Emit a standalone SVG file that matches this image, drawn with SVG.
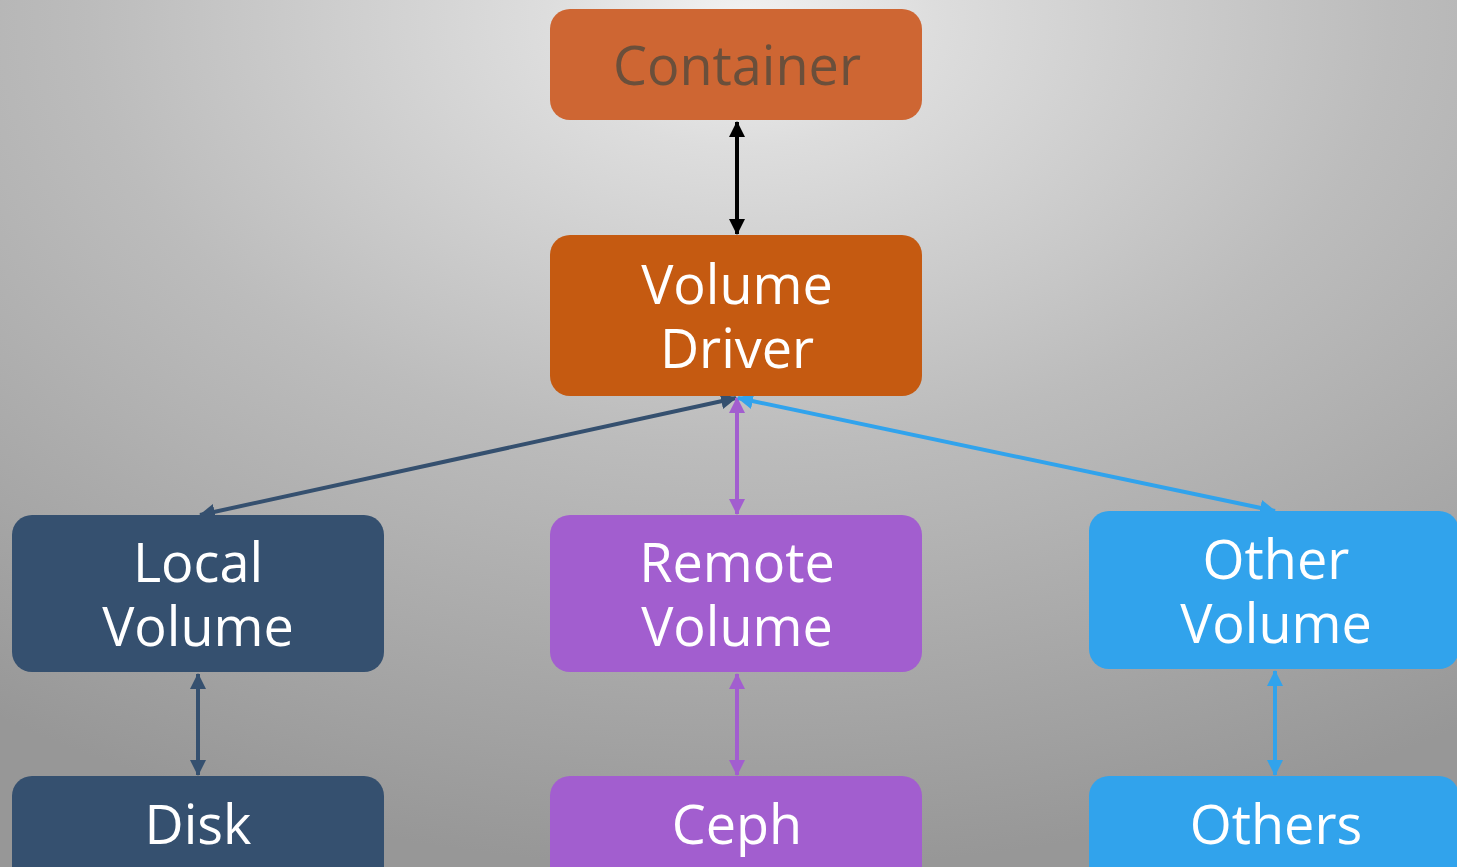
<svg xmlns="http://www.w3.org/2000/svg" width="1457" height="867" viewBox="0 0 1457 867">
<defs>
<radialGradient id="bg" gradientUnits="userSpaceOnUse" cx="740" cy="20" r="1" gradientTransform="translate(740 20) scale(1300 850) translate(-740 -20)" fx="740" fy="20">
<stop offset="0" stop-color="#F2F2F2"/>
<stop offset="0.15" stop-color="#DDDDDD"/>
<stop offset="0.5" stop-color="#BCBCBC"/>
<stop offset="0.8" stop-color="#A6A6A6"/>
<stop offset="1" stop-color="#979797"/>
</radialGradient>
<marker id="aK" viewBox="0 0 16 16" refX="15" refY="8" markerWidth="16" markerHeight="16" orient="auto-start-reverse" markerUnits="userSpaceOnUse"><path d="M0,0 L16,8 L0,16 z" fill="#000"/></marker>
<marker id="aL" viewBox="0 0 16 16" refX="15" refY="8" markerWidth="16" markerHeight="16" orient="auto-start-reverse" markerUnits="userSpaceOnUse"><path d="M0,0 L16,8 L0,16 z" fill="#35506F"/></marker>
<marker id="aR" viewBox="0 0 16 16" refX="15" refY="8" markerWidth="16" markerHeight="16" orient="auto-start-reverse" markerUnits="userSpaceOnUse"><path d="M0,0 L16,8 L0,16 z" fill="#A25ECF"/></marker>
<marker id="aO" viewBox="0 0 16 16" refX="15" refY="8" markerWidth="16" markerHeight="16" orient="auto-start-reverse" markerUnits="userSpaceOnUse"><path d="M0,0 L16,8 L0,16 z" fill="#31A3EC"/></marker>
</defs>
<style>
text{font-family:"Open Sans","Noto Sans","DejaVu Sans",sans-serif;font-size:54px;text-anchor:middle;fill:#FFFFFF}
.t{fill:#6A4F3B}
.c{fill:none;stroke-width:4}
</style>
<rect width="1457" height="867" fill="url(#bg)"/>
<g id="connectors">
<line class="c" x1="737" y1="122" x2="737" y2="234" stroke="#000" marker-start="url(#aK)" marker-end="url(#aK)"/>
<line class="c" x1="736" y1="398" x2="200" y2="515" stroke="#35506F" marker-start="url(#aL)" marker-end="url(#aL)"/>
<line class="c" x1="737" y1="398" x2="737" y2="514" stroke="#A25ECF" marker-start="url(#aR)" marker-end="url(#aR)"/>
<line class="c" x1="738" y1="398" x2="1275" y2="511" stroke="#31A3EC" marker-start="url(#aO)" marker-end="url(#aO)"/>
<line class="c" x1="198" y1="674" x2="198" y2="775" stroke="#35506F" marker-start="url(#aL)" marker-end="url(#aL)"/>
<line class="c" x1="737" y1="674" x2="737" y2="775" stroke="#A25ECF" marker-start="url(#aR)" marker-end="url(#aR)"/>
<line class="c" x1="1275" y1="671" x2="1275" y2="775" stroke="#31A3EC" marker-start="url(#aO)" marker-end="url(#aO)"/>
</g>
<g id="container"><rect x="550" y="9" width="372" height="111" rx="20" fill="#CE6633"/><text class="t" x="737" y="85">Container</text></g>
<g id="volume-driver"><rect x="550" y="235" width="372" height="161" rx="20" fill="#C55A11"/><text x="737" y="304">Volume</text><text x="737" y="368">Driver</text></g>
<g id="local-volume"><rect x="12" y="515" width="372" height="157" rx="20" fill="#35506F"/><text x="198" y="582">Local</text><text x="198" y="646">Volume</text></g>
<g id="remote-volume"><rect x="550" y="515" width="372" height="157" rx="20" fill="#A25ECF"/><text x="737" y="582">Remote</text><text x="737" y="646">Volume</text></g>
<g id="other-volume"><rect x="1089" y="511" width="370" height="158" rx="20" fill="#31A3EC"/><text x="1276" y="579">Other</text><text x="1276" y="643">Volume</text></g>
<g id="disk"><rect x="12" y="776" width="372" height="111" rx="20" fill="#35506F"/><text x="198" y="844">Disk</text></g>
<g id="ceph"><rect x="550" y="776" width="372" height="111" rx="20" fill="#A25ECF"/><text x="737" y="844">Ceph</text></g>
<g id="others"><rect x="1089" y="776" width="370" height="111" rx="20" fill="#31A3EC"/><text x="1276" y="844">Others</text></g>
</svg>
